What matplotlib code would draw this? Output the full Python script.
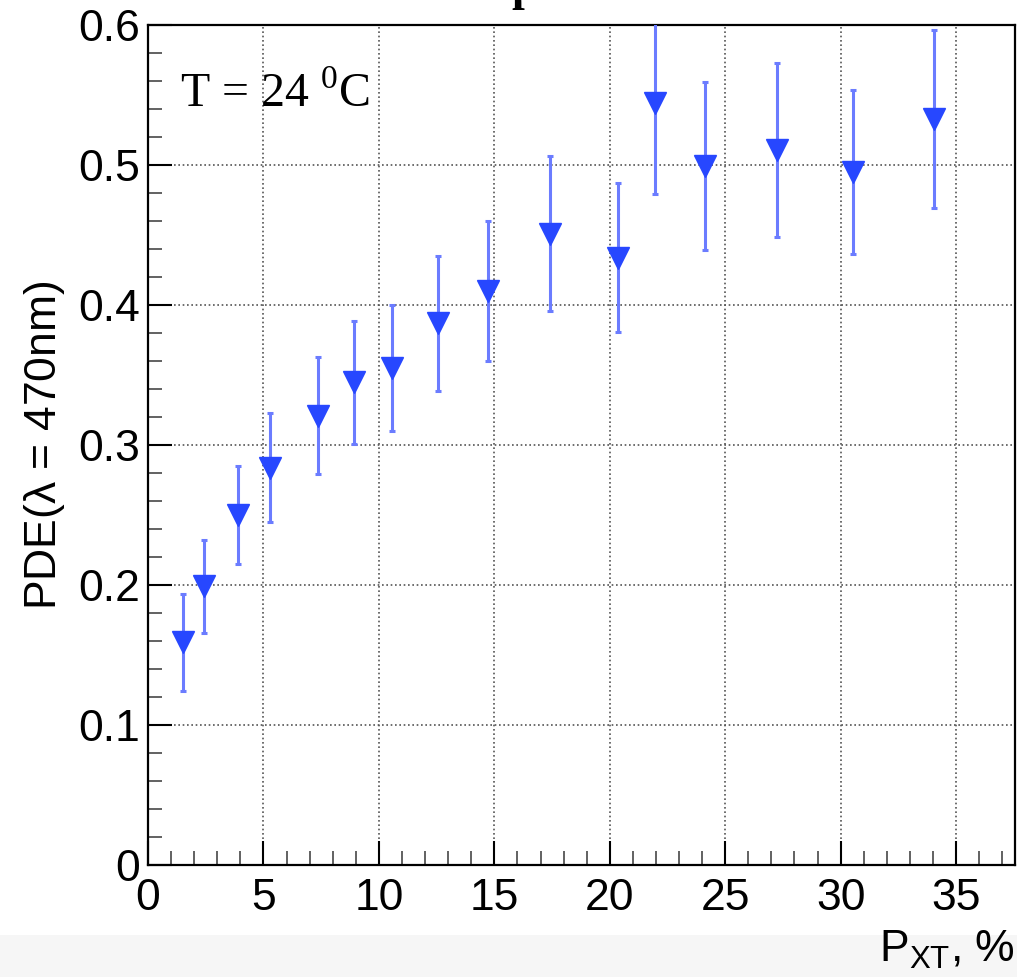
import matplotlib
matplotlib.use("Agg")
import matplotlib.pyplot as plt
from matplotlib.ticker import MultipleLocator
from matplotlib.patches import Rectangle

# ---- data ----
pxt = [1.53, 2.41, 3.88, 5.30, 7.35, 8.94, 10.58, 12.58, 14.71, 17.40,
       20.36, 21.95, 24.13, 27.24, 30.54, 34.05]
pde = [0.159, 0.199, 0.250, 0.284, 0.321, 0.345, 0.355, 0.387, 0.410, 0.451,
       0.434, 0.5445, 0.4995, 0.511, 0.495, 0.533]
pde_err = [0.0345, 0.0329, 0.0352, 0.039, 0.0418, 0.0439, 0.045, 0.0483, 0.050,
           0.0554, 0.0532, 0.0652, 0.060, 0.0624, 0.0586, 0.0634]

x_ticks = [0, 5, 10, 15, 20, 25, 30, 35]
y_ticks = [0, 0.1, 0.2, 0.3, 0.4, 0.5, 0.6]
y_tick_labels = ["0", "0.1", "0.2", "0.3", "0.4", "0.5", "0.6"]

plt.rcParams['font.family'] = ['Liberation Sans', 'DejaVu Sans']
plt.rcParams['mathtext.fontset'] = 'custom'
plt.rcParams['mathtext.rm'] = 'Liberation Sans'
plt.rcParams['mathtext.it'] = 'Liberation Sans'

W, H = 1017, 977
fig = plt.figure(figsize=(W / 100, H / 100), dpi=100)
fig.patch.set_facecolor('white')

# light grey strip at the bottom of the screenshot
fig.patches.append(Rectangle((0, 0), 1, (H - 935) / H, transform=fig.transFigure,
                             facecolor='#f6f6f6', edgecolor='none', zorder=-10))

left, right, top, bottom = 148, 1015, 25.3, 865
ax = fig.add_axes([left / W, 1 - bottom / H, (right - left) / W, (bottom - top) / H])
ax.set_facecolor('white')

ax.errorbar(pxt, pde, yerr=pde_err, fmt='none', ecolor='#6b7cff', elinewidth=2.2,
            capsize=2.5, capthick=2.2, zorder=3)
ax.plot(pxt, pde, linestyle='none', marker='v', markersize=15.5,
        markerfacecolor='#2747ff', markeredgecolor='#2747ff', zorder=4)

ax.set_xlim(0, 37.55)
ax.set_ylim(0, 0.6)
ax.set_xticks(x_ticks)
ax.set_xticklabels([str(v) for v in x_ticks])
ax.set_yticks(y_ticks)
ax.set_yticklabels(y_tick_labels)
ax.xaxis.set_minor_locator(MultipleLocator(1))
ax.yaxis.set_minor_locator(MultipleLocator(0.02))

ax.tick_params(which='major', direction='in', length=17, width=1.5, labelsize=32,
               top=False, right=False, color='black')
ax.tick_params(which='minor', direction='in', length=10, width=1.3,
               top=False, right=False, color='#555555')
ax.tick_params(axis='x', which='major', pad=9)
ax.tick_params(axis='y', which='major', pad=6)

ax.grid(True, which='major', linestyle=(0, (1, 1.6)), color='#555555', linewidth=1.2)
ax.set_axisbelow(True)
for s in ax.spines.values():
    s.set_linewidth(1.6)
    s.set_color('black')

ax.set_ylabel(r'PDE($\lambda$ = 470nm)', fontsize=32, labelpad=8)
fig.text(right / W, 1 - 962 / H, r'P$_{\mathrm{XT}}$, %', fontsize=32,
         ha='right', va='baseline')

fig.text(180 / W, 1 - 107 / H, r'T = 24 $^{\mathregular{0}}$C', fontsize=34.5,
         family='Liberation Serif', ha='left', va='baseline')

# partially visible title glyph at the very top edge (cut off in the reference too)
fig.text(511 / W, 1.0, 'p', fontsize=33, fontweight='bold', family='Liberation Serif',
         ha='left', va='baseline')

fig.savefig('out.png', dpi=100)
